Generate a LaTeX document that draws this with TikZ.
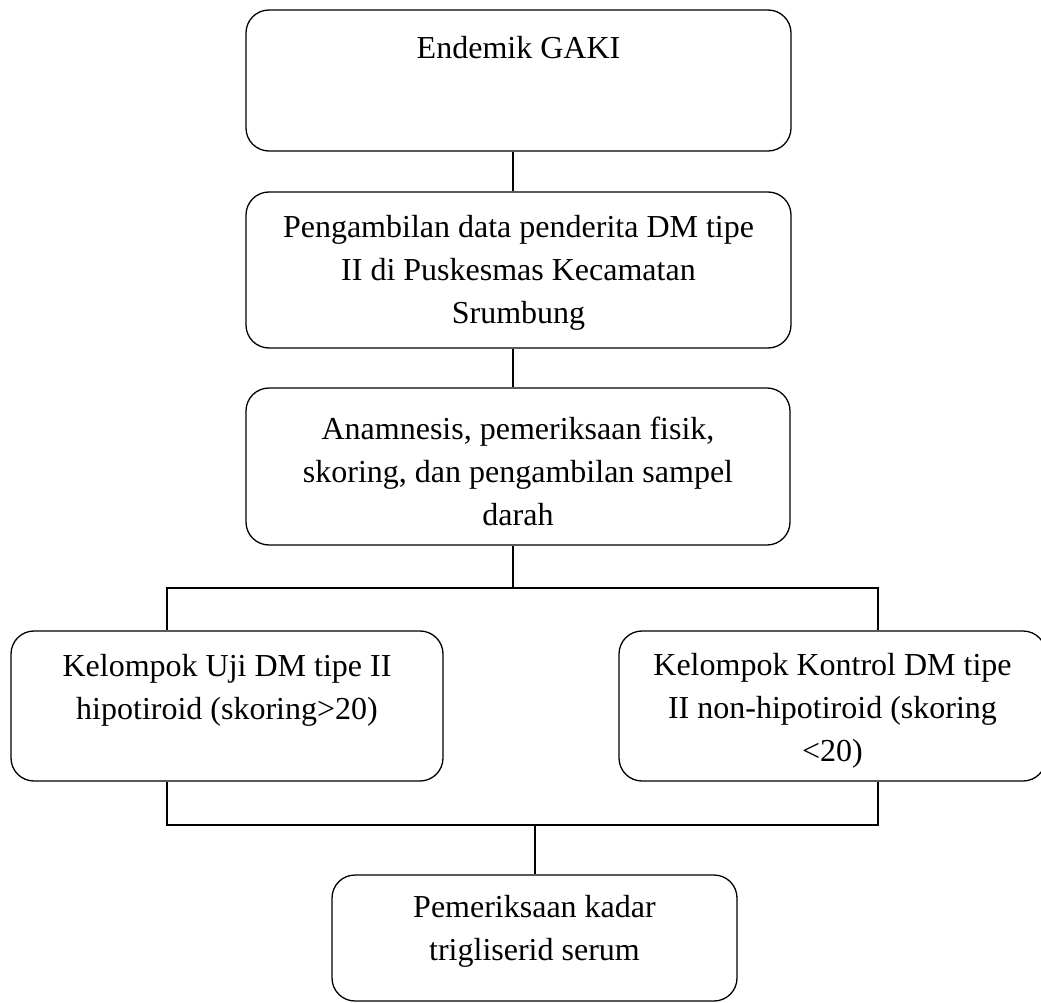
\documentclass[tikz,border=0pt]{standalone}
\usepackage{fontspec}
\setmainfont{Liberation Serif}
\begin{document}
\begin{tikzpicture}[x=1pt,y=-1pt,
  box/.style={draw, line width=1.3pt, rounded corners=23pt, inner sep=0pt, fill=none},
  txt/.style={align=center, inner sep=0pt, font=\fontsize{32}{43}\selectfont},
  conn/.style={draw, line width=1.3pt}]
\useasboundingbox[fill=white] (0,0) rectangle (1041,1003);
% boxes
\node[box, minimum width=545pt, minimum height=141pt] (b1) at (518.5,80.5) {};
\node[box, minimum width=545pt, minimum height=156pt] (b2) at (518.5,270) {};
\node[box, minimum width=544pt, minimum height=157pt] (b3) at (518,466.5) {};
\node[box, minimum width=432pt, minimum height=150pt] (b4) at (227,706) {};
\node[box, minimum width=427pt, minimum height=150pt] (b5) at (832.5,706) {};
\node[box, minimum width=405pt, minimum height=126pt] (b6) at (534.5,938) {};
% texts
\node[txt] (t1) at (518.5,48) {Endemik GAKI};
\node[txt] (t2) at (518.5,272.5) {Pengambilan data penderita DM tipe\\II di Puskesmas Kecamatan\\Srumbung};
\node[txt] (t3) at (518,471) {Anamnesis, pemeriksaan fisik,\\skoring, dan pengambilan sampel\\darah};
\node[txt] (t4) at (227,690) {Kelompok Uji DM tipe II\\hipotiroid (skoring>20)};
\node[txt] (t5) at (832.5,710.5) {Kelompok Kontrol DM tipe\\II non-hipotiroid (skoring\\<20)};
\node[txt] (t6) at (534.5,931.5) {Pemeriksaan kadar\\trigliserid serum};
% junction coordinates
\coordinate (cx) at (513,0);
\coordinate (up) at (0,588);
\coordinate (lo) at (0,825);
\coordinate (lx) at (167,0);
\coordinate (rx) at (878,0);
\coordinate (bx) at (535,0);
% connectors
\draw[conn] (b1.south -| cx) -- (b2.north -| cx);
\draw[conn] (b2.south -| cx) -- (b3.north -| cx);
\draw[conn] (b3.south -| cx) -- (up -| cx);
\draw[conn] (b4.north -| lx) -- (up -| lx) -- (up -| rx) -- (b5.north -| rx);
\draw[conn] (b4.south -| lx) -- (lo -| lx) -- (lo -| rx) -- (b5.south -| rx);
\draw[conn] (lo -| bx) -- (b6.north -| bx);
\end{tikzpicture}
\end{document}
